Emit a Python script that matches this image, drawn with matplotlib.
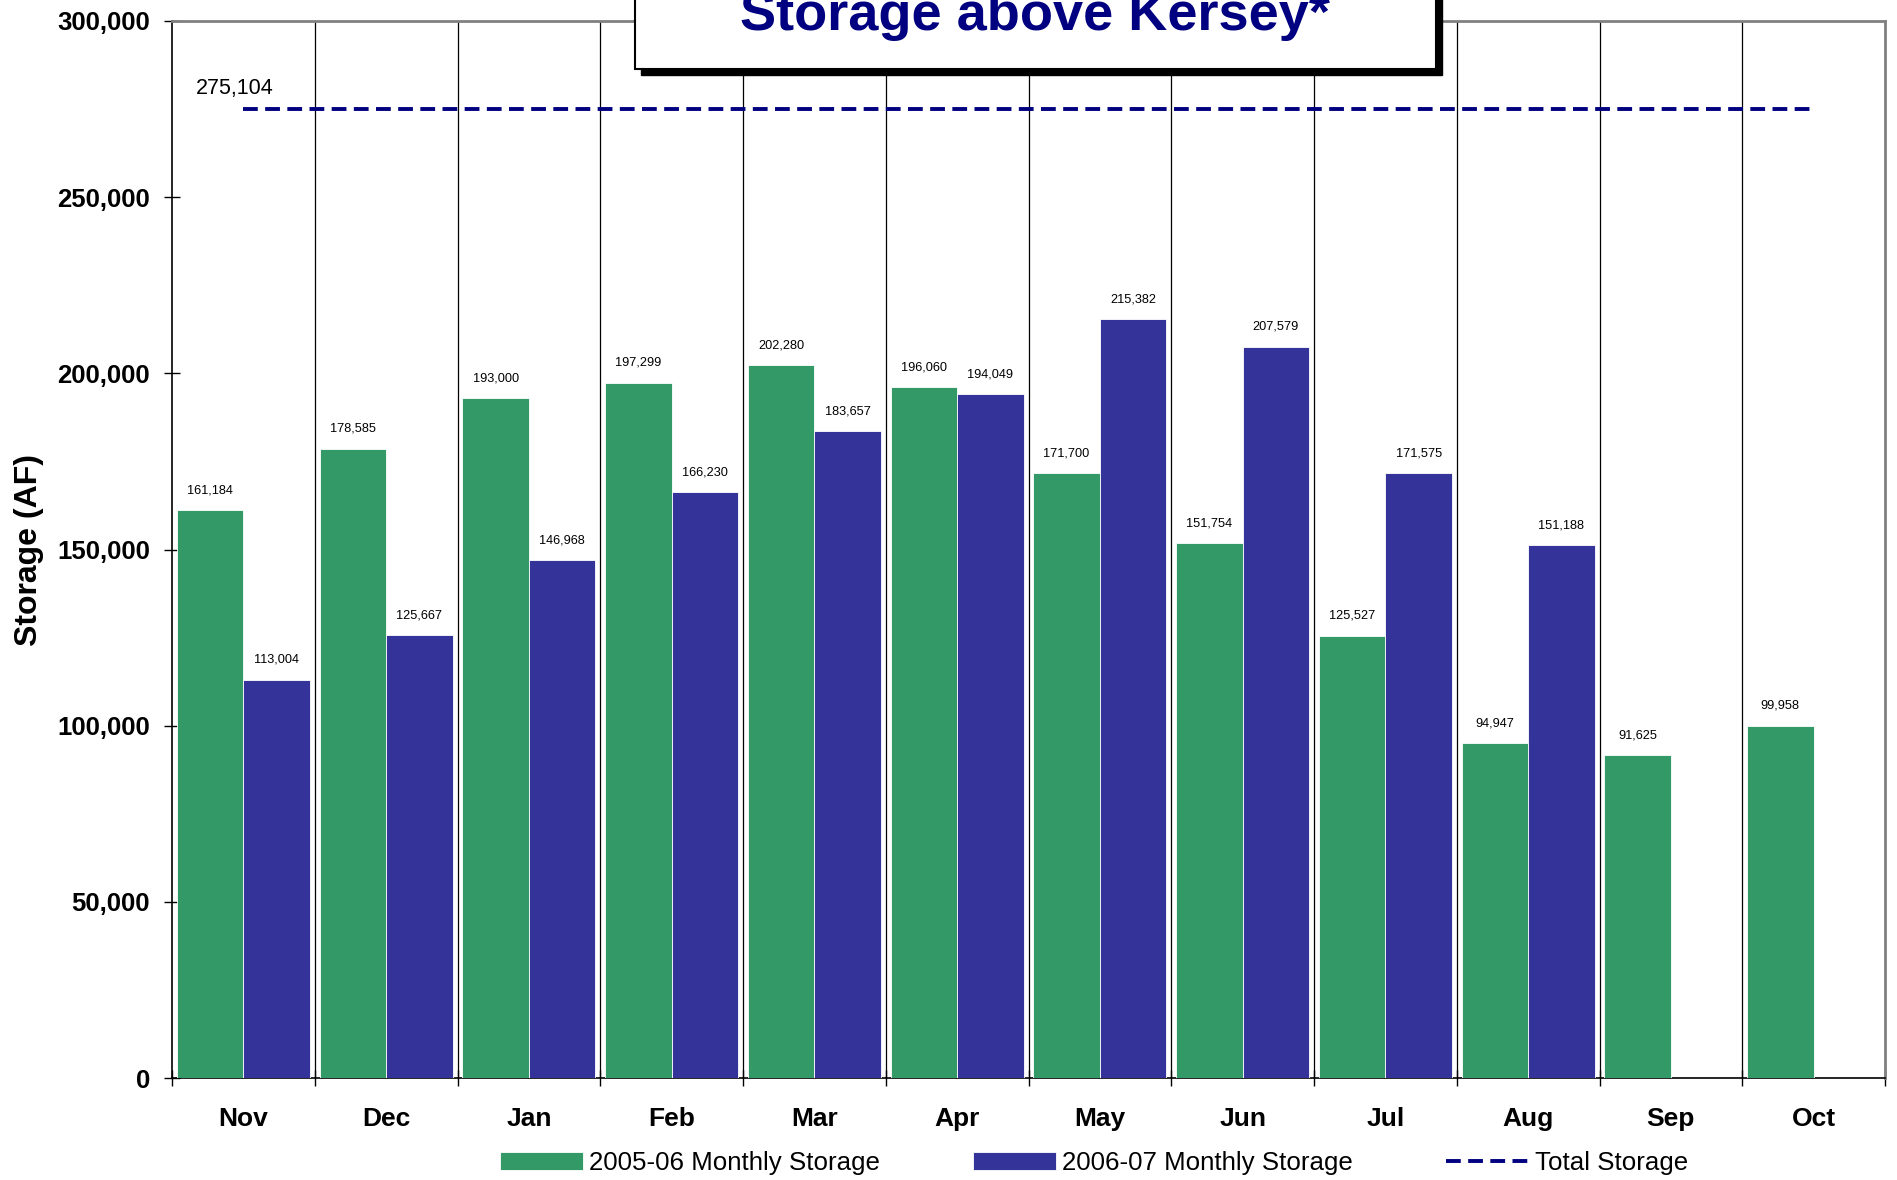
import numpy as np
import matplotlib
matplotlib.use("Agg")
import matplotlib.pyplot as plt
from matplotlib.patches import Rectangle
from matplotlib.ticker import FuncFormatter

# ======================================================
# DATA
# ======================================================
months = ["Nov", "Dec", "Jan", "Feb", "Mar", "Apr", "May", "Jun", "Jul", "Aug", "Sep", "Oct"]
storage_0506 = [161184, 178585, 193000, 197299, 202280, 196060, 171700, 151754, 125527, 94947, 91625, 99958]
storage_0607 = [113004, 125667, 146968, 166230, 183657, 194049, 215382, 207579, 171575, 151188, None, None]
total_storage = 275104

title = "Storage above Kersey*"
legend_labels = ["2005-06 Monthly Storage", "2006-07 Monthly Storage", "Total Storage"]

GREEN = "#339966"
BLUE = "#333399"
NAVY = "#000080"

plt.rcParams["font.family"] = ["Liberation Sans", "DejaVu Sans"]

fig = plt.figure(figsize=(18.97, 11.80), dpi=100)
ax = fig.add_axes([172 / 1897, 1 - 1078 / 1180, (1885 - 172) / 1897, (1078 - 21) / 1180])

x = np.arange(len(months))
w = 0.466

# bars
g_bars = ax.bar(x, storage_0506, width=-w, align="edge", color=GREEN,
                edgecolor="white", linewidth=0.6, zorder=3, label=legend_labels[0])
idx_b = [i for i, v in enumerate(storage_0607) if v is not None]
vals_b = [storage_0607[i] for i in idx_b]
b_bars = ax.bar(x[idx_b], vals_b, width=w, align="edge", color=BLUE,
                edgecolor="white", linewidth=0.6, zorder=3, label=legend_labels[1])

# data labels
for bar in list(g_bars) + list(b_bars):
    h = bar.get_height()
    ax.annotate(f"{int(h):,}", (bar.get_x() + bar.get_width() / 2, h),
                xytext=(0, 10), textcoords="offset points",
                ha="center", va="bottom", fontsize=9.2, zorder=5)

# total storage line
tot_line, = ax.plot([x[0], x[-1]], [total_storage, total_storage], color=NAVY,
                    linewidth=2.8, linestyle=(0, (3.8, 1.9)), zorder=4,
                    label=legend_labels[2])
ax.text(x[0] - 0.06, total_storage + 2800, f"{total_storage:,}", ha="center",
        va="bottom", fontsize=15.5)

# category separators
for b in np.arange(0.5, len(months) - 1, 1.0):
    ax.axvline(b, color="black", linewidth=0.9, zorder=1)

# axes style
ax.set_xlim(-0.5, len(months) - 0.5)
ax.set_ylim(0, 300000)
ax.set_yticks(np.arange(0, 300001, 50000))
ax.yaxis.set_major_formatter(FuncFormatter(lambda v, p: f"{int(v):,}"))
ax.set_xticks(np.arange(-0.5, len(months), 1.0))
ax.set_xticklabels([])
ax.set_xticks(x, minor=True)
ax.set_xticklabels(months, minor=True)
ax.tick_params(axis="x", which="minor", length=0, pad=21, labelsize=19)
ax.tick_params(axis="x", which="major", direction="inout", length=12, width=1)
ax.tick_params(axis="y", direction="inout", length=12, width=1, labelsize=18.5, pad=10)
for lbl in ax.get_xticklabels(minor=True) + ax.get_yticklabels():
    lbl.set_fontweight("bold")

ax.spines["left"].set_color("black")
ax.spines["bottom"].set_color("black")
ax.spines["left"].set_linewidth(1.2)
ax.spines["bottom"].set_linewidth(1.2)
ax.spines["top"].set_color("#808080")
ax.spines["right"].set_color("#808080")
ax.spines["top"].set_linewidth(2)
ax.spines["right"].set_linewidth(2)

ax.set_ylabel("Storage (AF)", fontsize=23, fontweight="bold")
ax.yaxis.set_label_coords(-(172 - 44) / (1885 - 172), 0.5)

# title box with shadow
bx0, bx1 = 635 / 1897, 1436 / 1897
by0, by1 = 1 - 69 / 1180, 1.05
sx, sy = 6 / 1897, 6 / 1180
fig.patches.append(Rectangle((bx0 + sx, by0 - sy), bx1 - bx0, by1 - by0,
                             transform=fig.transFigure, facecolor="black",
                             edgecolor="black", zorder=10))
fig.patches.append(Rectangle((bx0, by0), bx1 - bx0, by1 - by0,
                             transform=fig.transFigure, facecolor="white",
                             edgecolor="black", linewidth=1.5, zorder=11))
fig.text((bx0 + bx1) / 2, 1 - 30 / 1180, title, ha="center", va="baseline",
         fontsize=39, fontweight="bold", color=NAVY, zorder=12)

# legend
fig.legend(handles=[g_bars, b_bars, tot_line], labels=legend_labels,
           loc="center", bbox_to_anchor=(1094 / 1897, 1 - 1163 / 1180), ncol=3,
           frameon=False, fontsize=18.6, handlelength=3.2, handletextpad=0.25,
           columnspacing=3.6)

fig.savefig("out.png", dpi=100)
